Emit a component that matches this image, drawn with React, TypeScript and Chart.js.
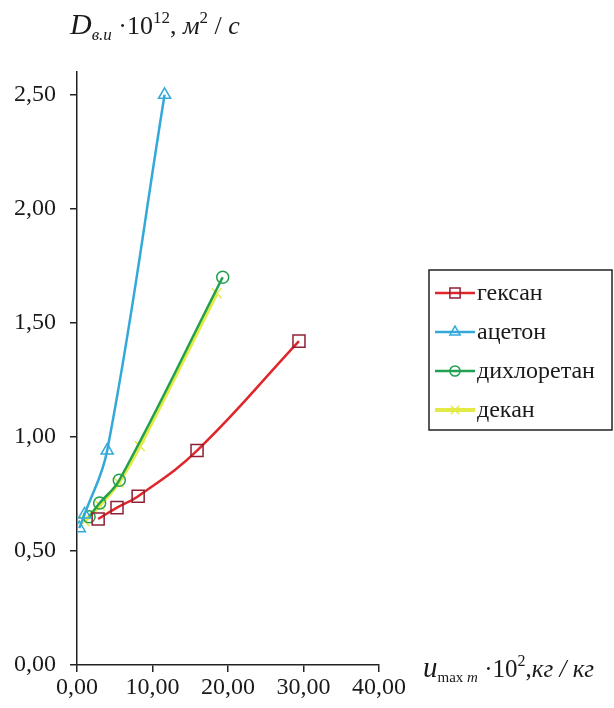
import React, { useEffect, useRef } from "react";
import { Chart, registerables } from "chart.js";

Chart.register(...registerables);

const seriesNames = ["гексан", "ацетон", "дихлоретан", "декан"];
const hexaneX = [2.8, 5.3, 8.1, 15.9, 29.4];
const hexaneY = [0.64, 0.69, 0.74, 0.94, 1.42];
const acetoneX = [0.3, 1.0, 4.0, 11.6];
const acetoneY = [0.6, 0.66, 0.94, 2.5];
const dichloroX = [1.6, 3.0, 5.6, 19.3];
const dichloroY = [0.65, 0.71, 0.81, 1.7];
const decaneX = [1.0, 3.0, 5.5, 8.3, 18.5];
const decaneY = [0.63, 0.7, 0.8, 0.96, 1.63];
const yTicks = [0, 0.5, 1.0, 1.5, 2.0, 2.5];
const xTicks = [0, 10, 20, 30, 40];

const lineColors = ["#e0262a", "#33a9d9", "#22a04f", "#e4ea45"];
const markerColors = ["#8e2034", "#33a9d9", "#22a04f", "#e4ea45"];
const markerStyles = ["rect", "triangle", "circle", "crossRot"];
const markerRadius = [8.5, 7, 6, 7];
const lineWidths = [2.5, 2.5, 2.5, 4];

const SERIF = "'Liberation Serif', 'Times New Roman', serif";

const fmt = (v: number) => v.toFixed(2).replace(".", ",");

type Run = { t: string; size: number; italic?: boolean; dy?: number };

function drawRuns(ctx: CanvasRenderingContext2D, x: number, y: number, runs: Run[]) {
  let cx = x;
  for (const r of runs) {
    ctx.font = `${r.italic ? "italic " : ""}${r.size}px ${SERIF}`;
    ctx.fillText(r.t, cx, y + (r.dy || 0));
    cx += ctx.measureText(r.t).width;
  }
}

function drawPointShape(ctx: CanvasRenderingContext2D, style: string, r: number, x: number, y: number) {
  ctx.beginPath();
  if (style === "rect") {
    const s = Math.SQRT1_2 * r;
    ctx.rect(x - s, y - s, 2 * s, 2 * s);
  } else if (style === "triangle") {
    ctx.moveTo(x, y - r);
    ctx.lineTo(x + r * Math.sin(Math.PI / 3), y + r / 2);
    ctx.lineTo(x - r * Math.sin(Math.PI / 3), y + r / 2);
    ctx.closePath();
  } else if (style === "circle") {
    ctx.arc(x, y, r, 0, Math.PI * 2);
  } else {
    const d = r * Math.SQRT1_2;
    ctx.moveTo(x - d, y - d);
    ctx.lineTo(x + d, y + d);
    ctx.moveTo(x - d, y + d);
    ctx.lineTo(x + d, y - d);
  }
  ctx.stroke();
}

const decorPlugin = {
  id: "decor",
  afterDraw(chart: any) {
    const ctx: CanvasRenderingContext2D = chart.ctx;
    ctx.save();
    ctx.fillStyle = "#1a1a1a";
    ctx.textBaseline = "alphabetic";
    ctx.textAlign = "left";
    // Y axis title
    drawRuns(ctx, 70, 34, [
      { t: "D", size: 30, italic: true },
      { t: "в.и", size: 17, italic: true, dy: 6 },
      { t: " ·10", size: 26 },
      { t: "12", size: 17, dy: -11 },
      { t: ", ", size: 26 },
      { t: "м", size: 26, italic: true },
      { t: "2", size: 17, dy: -11 },
      { t: " / ", size: 26 },
      { t: "с", size: 26, italic: true },
    ]);
    // X axis title
    drawRuns(ctx, 423, 677, [
      { t: "u", size: 29, italic: true },
      { t: "max ", size: 15, dy: 5 },
      { t: "m", size: 15, italic: true, dy: 5 },
      { t: " ·10", size: 25 },
      { t: "2", size: 16, dy: -11 },
      { t: ",", size: 25 },
      { t: "кг / кг", size: 25, italic: true },
    ]);
    // Legend
    const lx = 429, ly = 270, lw = 183, lh = 160;
    ctx.strokeStyle = "#222";
    ctx.lineWidth = 1.5;
    ctx.strokeRect(lx, ly, lw, lh);
    const ds = chart.data.datasets;
    for (let i = 0; i < ds.length; i++) {
      const cy = 293 + i * 39;
      ctx.strokeStyle = lineColors[i];
      ctx.lineWidth = lineWidths[i];
      ctx.beginPath();
      ctx.moveTo(435, cy);
      ctx.lineTo(475, cy);
      ctx.stroke();
      ctx.lineWidth = 1.5;
      ctx.strokeStyle = markerColors[i];
      drawPointShape(ctx, markerStyles[i], markerRadius[i] * 0.85, 455, cy);
      ctx.fillStyle = "#1a1a1a";
      ctx.font = `24px ${SERIF}`;
      ctx.textBaseline = "middle";
      ctx.fillText(ds[i].label, 477, cy + 1);
    }
    ctx.restore();
  },
};

const toPts = (xs: number[], ys: number[]) => xs.map((x, i) => ({ x, y: ys[i] }));

export default function App() {
  const ref = useRef<HTMLCanvasElement | null>(null);
  useEffect(() => {
    document.body.style.margin = "0";
    const canvas = ref.current!;
    const all = [
      toPts(hexaneX, hexaneY),
      toPts(acetoneX, acetoneY),
      toPts(dichloroX, dichloroY),
      toPts(decaneX, decaneY),
    ];
    const chart = new Chart(canvas, {
      type: "line",
      data: {
        datasets: all.map((d, i) => ({
          label: seriesNames[i],
          data: d,
          borderColor: lineColors[i],
          borderWidth: lineWidths[i],
          pointStyle: markerStyles[i] as any,
          pointRadius: markerRadius[i],
          pointBorderColor: markerColors[i],
          pointBackgroundColor: "rgba(0,0,0,0)",
          pointBorderWidth: 1.5,
          tension: 0.4,
          fill: false,
        })),
      },
      options: {
        animation: false,
        responsive: false,
        maintainAspectRatio: false,
        layout: { padding: { left: 0, top: 72, right: 235, bottom: 0 } },
        plugins: { legend: { display: false }, tooltip: { enabled: false } },
        scales: {
          x: {
            type: "linear",
            min: 0,
            max: 40,
            afterFit: (s: any) => { s.height = 43; },
            afterBuildTicks: (s: any) => { s.ticks = xTicks.map((v) => ({ value: v })); },
            grid: { drawOnChartArea: false, drawTicks: true, tickLength: 7, color: "#222", lineWidth: 1.5 },
            border: { display: true, color: "#222", width: 1.5 },
            ticks: {
              color: "#1a1a1a",
              font: { family: SERIF, size: 24 },
              padding: 1,
              maxRotation: 0,
              callback: (v: any) => fmt(Number(v)),
            },
          },
          y: {
            type: "linear",
            min: 0,
            max: 2.6,
            afterFit: (s: any) => { s.width = 77; },
            afterBuildTicks: (s: any) => { s.ticks = yTicks.map((v) => ({ value: v })); },
            grid: { drawOnChartArea: false, drawTicks: true, tickLength: 7, color: "#222", lineWidth: 1.5 },
            border: { display: true, color: "#222", width: 1.5 },
            ticks: {
              color: "#1a1a1a",
              font: { family: SERIF, size: 24 },
              padding: 14,
              callback: (v: any) => fmt(Number(v)),
            },
          },
        },
      },
      plugins: [decorPlugin],
    });
    return () => chart.destroy();
  }, []);
  return (
    <div style={{ position: "relative", width: 614, height: 708, background: "#fff" }}>
      <canvas ref={ref} width={614} height={708} style={{ display: "block", width: 614, height: 708 }} />
    </div>
  );
}
